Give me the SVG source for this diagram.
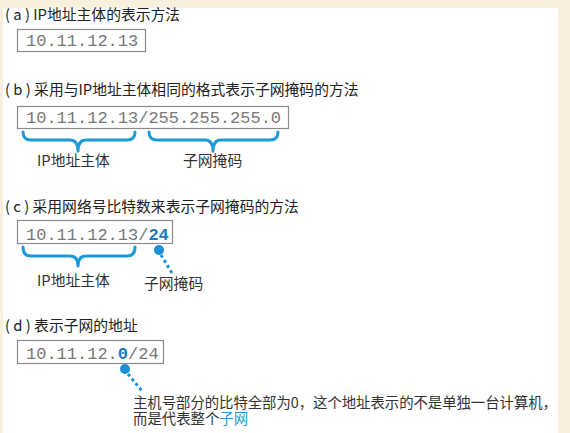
<svg xmlns="http://www.w3.org/2000/svg" width="570" height="433" viewBox="0 0 570 433">
<style>
.title{font-family:"Noto Sans CJK SC","Noto Sans",sans-serif;font-size:14.8px;fill:#222}
.lbl{font-family:"Noto Sans CJK SC","Noto Sans",sans-serif;font-size:14.8px;fill:#333}
.note{font-family:"Noto Sans CJK SC","Noto Sans",sans-serif;font-size:14.4px;fill:#333}
.mono{font-family:"Liberation Mono","DejaVu Sans Mono",monospace;font-size:17px;fill:#777}
.box{fill:#fff;stroke:#8a8a8a;stroke-width:1.2}
.brace{fill:none;stroke:#1e9ad8;stroke-width:3;stroke-linecap:round;stroke-linejoin:round}
.dots{fill:none;stroke:#1a8fd6;stroke-width:3;stroke-dasharray:3 3}
.dot{fill:#1a8fd6}
.blue{fill:#1a78c0;font-weight:bold}
.blue2{fill:#2a9ad8}
</style>
<rect x="0" y="0" width="570" height="433" fill="#f8f0dc"/>
<rect x="3" y="8" width="555" height="425" fill="#ffffff"/>

<g id="a">
<text class="title" x="5" y="20">( a ) IP地址主体的表示方法</text>
<rect class="box" x="17.5" y="29.5" width="128" height="22"/>
<text class="mono" x="26" y="46">10.11.12.13</text>
</g>

<g id="b">
<text class="title" x="5" y="95">( b ) 采用与IP地址主体相同的格式表示子网掩码的方法</text>
<rect class="box" x="17.5" y="106.5" width="271" height="22"/>
<text class="mono" x="26" y="123">10.11.12.13/255.255.255.0</text>
<text class="lbl" x="37" y="166">IP地址主体</text>
<text class="lbl" x="183" y="166">子网掩码</text>
</g>

<g id="c">
<text class="title" x="5" y="212">( c ) 采用网络号比特数来表示子网掩码的方法</text>
<rect class="box" x="17.5" y="220.5" width="155" height="23"/>
<text class="mono" x="26" y="240">10.11.12.13/<tspan class="blue">24</tspan></text>
<text class="lbl" x="37" y="286">IP地址主体</text>
<text class="lbl" x="144" y="289">子网掩码</text>
</g>

<g id="d">
<text class="title" x="5" y="331">( d ) 表示子网的地址</text>
<rect class="box" x="17.5" y="340.5" width="146" height="23"/>
<text class="mono" x="26" y="359">10.11.12.<tspan class="blue">0</tspan>/24</text>
<text class="note" x="133" y="408" textLength="424" lengthAdjust="spacing">主机号部分的比特全部为0，这个地址表示的不是单独一台计算机，</text>
<text class="note" x="133" y="424">而是代表整个<tspan class="blue2">子网</tspan></text>
</g>

<g id="connectors">
<path class="brace" d="M23 132 Q23 140 31 140 L70 140 Q78 140 78 151 Q78 140 86 140 L127 140 Q135 140 135 132"/>
<path class="brace" d="M149 132 Q149 140 157 140 L205 140 Q213 140 213 151 Q213 140 221 140 L270 140 Q278 140 278 132"/>
<path class="brace" d="M23 247 Q23 256 31 256 L70 256 Q78 256 78 266 Q78 256 86 256 L127 256 Q135 256 135 247"/>
<circle class="dot" cx="159" cy="250" r="5"/>
<path class="dots" d="M161 255 L172 273"/>
<circle class="dot" cx="125" cy="369" r="5"/>
<path class="dots" d="M128 374 L142 391"/>
</g>
</svg>
